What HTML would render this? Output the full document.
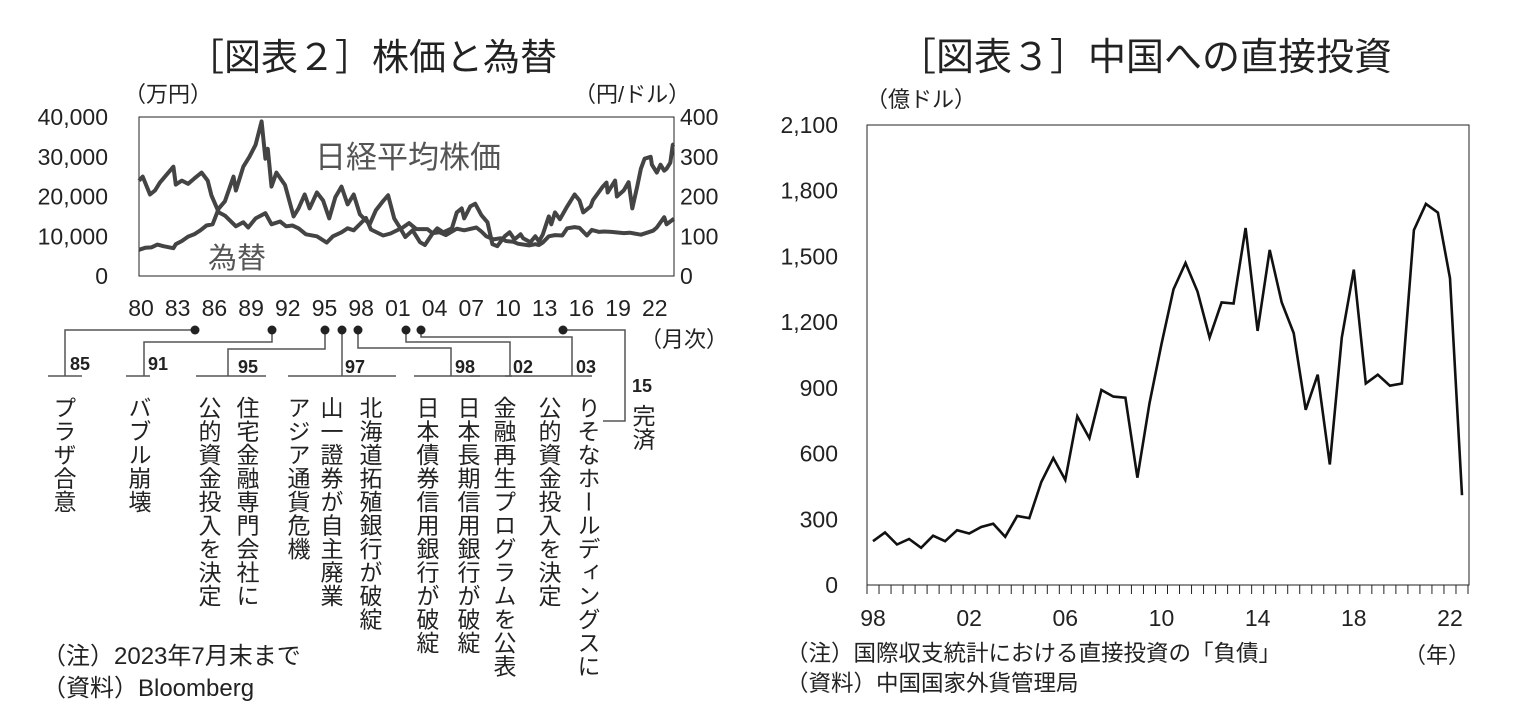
<!DOCTYPE html>
<html><head><meta charset="utf-8">
<style>
body{margin:0;background:#fff;}
#wrap{position:relative;width:1525px;height:727px;overflow:hidden;font-family:"Liberation Sans","Noto Sans CJK JP",sans-serif;color:#222;}
svg{position:absolute;left:0;top:0;}
svg text{font-family:"Liberation Sans","Noto Sans CJK JP",sans-serif;}
.v{position:absolute;writing-mode:vertical-rl;font-size:23px;line-height:26px;letter-spacing:0.5px;color:#222;white-space:nowrap;}
.n{position:absolute;font-size:22.5px;color:#222;white-space:nowrap;}
</style></head>
<body>
<div id="wrap">
<svg id="svg" width="1525" height="727">
 <text x="372" y="70" font-size="37" text-anchor="middle" fill="#222">［図表２］株価と為替</text>
 <text x="1145" y="70" font-size="38" text-anchor="middle" fill="#222">［図表３］中国への直接投資</text>
 <text x="124" y="102" font-size="22" fill="#222">（万円）</text>
 <text x="574" y="102" font-size="22" fill="#222">（円/ドル）</text>
 <rect x="139" y="117" width="535" height="159" fill="none" stroke="#222" stroke-width="1"/>
 <g id="leftAxes"></g>
 <g id="leftSeries"></g>
 <text x="315" y="168" font-size="31" fill="#555">日経平均株価</text>
 <text x="208" y="268" font-size="29" fill="#555">為替</text>
 <text x="640" y="347" font-size="22" fill="#222">（月次）</text>
 <g id="timeline" stroke="#555" stroke-width="1.5" fill="none"></g>
 <text x="866" y="107" font-size="22" fill="#222">（億ドル）</text>
 <rect x="867" y="125" width="602" height="460" fill="none" stroke="#222" stroke-width="1"/>
 <g id="rightAxes"></g>
 <g id="rightSeries"></g>
 <text x="1404" y="663" font-size="22" fill="#222">（年）</text>
</svg>

<div class="v" style="left:50px;top:396px">プラザ合意</div>
<div class="v" style="left:125px;top:396px">バブル崩壊</div>
<div class="v" style="left:195px;top:396px">公的資金投入を決定</div>
<div class="v" style="left:233px;top:396px">住宅金融専門会社に</div>
<div class="v" style="left:284px;top:396px">アジア通貨危機</div>
<div class="v" style="left:317px;top:396px">山一證券が自主廃業</div>
<div class="v" style="left:356px;top:396px">北海道拓殖銀行が破綻</div>
<div class="v" style="left:413px;top:396px">日本債券信用銀行が破綻</div>
<div class="v" style="left:454px;top:396px">日本長期信用銀行が破綻</div>
<div class="v" style="left:490px;top:396px">金融再生プログラムを公表</div>
<div class="v" style="left:535px;top:396px">公的資金投入を決定</div>
<div class="v" style="left:574px;top:396px">りそなホールディングスに</div>
<div class="v" style="left:629px;top:404px">完済</div>

<div class="n" style="left:42px;top:636px;font-size:24px">（注）2023年7月末まで</div>
<div class="n" style="left:42px;top:668px;font-size:24px">（資料）Bloomberg</div>
<div class="n" style="left:786px;top:636px">（注）国際収支統計における直接投資の「負債」</div>
<div class="n" style="left:786px;top:666px">（資料）中国国家外貨管理局</div>
</div>

<script>
// ---- Left chart data ----
const nikkeiT=[1980.0,1980.5,1981.0,1981.5,1982.0,1982.8,1983.0,1983.5,1984.0,1984.5,1985.0,1985.5,1986.0,1986.5,1987.0,1987.7,1987.9,1988.5,1989.0,1989.5,1989.99,1990.3,1990.5,1990.8,1991.2,1991.9,1992.6,1993.0,1993.5,1993.9,1994.5,1995.0,1995.5,1996.0,1996.5,1997.0,1997.5,1998.0,1998.8,1999.3,1999.9,2000.3,2000.8,2001.2,2001.7,2002.3,2002.9,2003.3,2003.9,2004.3,2004.8,2005.5,2005.9,2006.3,2006.5,2007.0,2007.4,2007.9,2008.4,2008.8,2009.2,2009.8,2010.2,2010.6,2011.1,2011.3,2011.9,2012.3,2012.6,2012.9,2013.4,2013.6,2013.9,2014.3,2014.9,2015.5,2015.9,2016.2,2016.8,2017.0,2017.8,2018.1,2018.2,2018.8,2018.95,2019.5,2019.9,2020.2,2020.6,2020.9,2021.2,2021.7,2021.8,2022.2,2022.5,2022.8,2023.0,2023.3,2023.5,2023.6];
const nikkeiV=[6600,7100,7200,7900,7500,7000,8000,8800,9900,10500,11500,12700,13000,17000,18800,25000,21500,27500,30000,33000,38900,29500,32000,22500,26000,22900,15000,17000,20500,17000,21000,19000,14500,19800,22500,18000,20500,15500,13000,16500,18900,20300,14500,12500,9800,11500,8500,7800,10600,12000,11000,12000,16000,17000,14500,17500,18200,15300,13500,8000,7500,10000,11000,9200,10500,9500,8500,10000,8700,10400,15000,13000,16000,14300,17500,20500,19000,16000,17500,19100,22500,23500,21000,24000,20000,21500,23600,17000,22500,27000,29500,30000,28000,26000,28000,26500,27000,28500,33000,33200];
const fxT=[1980.0,1980.3,1980.9,1981.3,1981.7,1982.8,1983.0,1983.5,1984.0,1984.5,1985.1,1985.6,1985.9,1986.5,1987.0,1987.9,1988.5,1988.9,1989.5,1990.3,1990.8,1991.5,1992.0,1992.5,1993.0,1993.6,1994.5,1995.3,1995.8,1996.5,1997.0,1997.5,1998.5,1998.9,1999.9,2000.5,2001.5,2002.0,2002.6,2003.5,2003.9,2004.5,2005.0,2005.9,2006.5,2007.5,2007.9,2008.3,2008.9,2009.5,2009.9,2010.5,2010.9,2011.8,2012.3,2012.6,2012.9,2013.4,2013.9,2014.5,2014.9,2015.5,2015.9,2016.5,2016.9,2017.5,2017.9,2018.5,2019.5,2020.0,2020.9,2021.5,2021.9,2022.2,2022.8,2023.0,2023.5,2023.6];
const fxV=[240,250,205,215,235,275,230,240,232,245,260,240,203,160,152,125,135,122,145,158,130,137,125,127,120,105,100,84,100,110,120,115,146,117,102,107,122,133,118,118,108,110,103,119,115,122,112,100,92,95,88,86,81,77,80,78,84,100,103,102,120,123,121,102,116,111,112,111,108,109,104,110,114,122,148,130,142,144];
const leftTicks=[0,10000,20000,30000,40000];
const leftTickLabels=["0","10,000","20,000","30,000","40,000"];
const rightTicks=[0,100,200,300,400];
const rightTickLabels=["0","100","200","300","400"];
const yearLabels=["80","83","86","89","92","95","98","01","04","07","10","13","16","19","22"];

// ---- Right chart data (semiannual, 1998H1..2022H2) ----
const fdiValues=[200,240,185,210,170,225,200,250,235,265,280,220,315,305,470,580,480,770,670,890,860,855,490,830,1100,1350,1470,1340,1130,1290,1285,1630,1160,1530,1290,1150,800,960,550,1130,1440,920,960,910,920,1620,1740,1700,1400,410];
const fdiTicks=[0,300,600,900,1200,1500,1800,2100];
const fdiTickLabels=["0","300","600","900","1,200","1,500","1,800","2,100"];
const fdiYearLabels=["98","02","06","10","14","18","22"];

const NS="http://www.w3.org/2000/svg";
function mk(tag,attrs,parent,txt){const e=document.createElementNS(NS,tag);for(const k in attrs)e.setAttribute(k,attrs[k]);if(txt!==undefined)e.textContent=txt;parent.appendChild(e);return e;}

const lx=t=>139+(t-1980)*(535/43.6);
const lyL=v=>276-v/40000*159;
const lyR=v=>276-v/400*159;
const la=document.getElementById('leftAxes');
leftTicks.forEach((v,i)=>{
  const t=mk('text',{x:108,y:lyL(v)+8,'font-size':23,'text-anchor':'end',fill:'#222'},la,leftTickLabels[i]);
  
  
});
rightTicks.forEach((v,i)=>{
  const t=mk('text',{x:680,y:lyR(v)+8,'font-size':23,fill:'#222'},la,rightTickLabels[i]);
  
  
});
yearLabels.forEach((s,i)=>{
  const t=mk('text',{x:141+i*36.7,y:316,'font-size':23,'text-anchor':'middle',fill:'#222'},la,s);
  
  
});
const ls=document.getElementById('leftSeries');
function line(T,V,fy,name){
  const d=T.map((t,i)=>(i?'L':'M')+lx(t).toFixed(1)+' '+fy(V[i]).toFixed(1)).join(' ');
  const p=mk('path',{d:d,fill:'none',stroke:'#444','stroke-width':4,'stroke-linejoin':'round'},ls);
  
  
}
line(nikkeiT,nikkeiV,lyL,'nikkei-line');
line(fxT,fxV,lyR,'fx-line');

const tl=document.getElementById('timeline');
const conns=[
 {dot:[195,330],path:'M195 330 H65 V376',ul:[48,82],lab:'85',lx:70,ly:370},
 {dot:[272,330],path:'M272 330 V342 H144 V376',ul:[126,150],lab:'91',lx:148,ly:370},
 {dot:[325,330],path:'M325 330 V349 H228 V376',ul:[196,266],lab:'95',lx:238,ly:373},
 {dot:[342,330],path:'M342 330 V376',ul:[288,396],lab:'97',lx:345,ly:373},
 {dot:[358,330],path:'M358 330 V348 H451 V376',ul:[414,480],lab:'98',lx:455,ly:373},
 {dot:[406,330],path:'M406 330 V342 H510 V376',ul:[470,512],lab:'02',lx:513,ly:373},
 {dot:[421,330],path:'M421 330 V337 H572 V376',ul:[505,592],lab:'03',lx:576,ly:373},
 {dot:[563,330],path:'M563 330 H625 V421 H603',ul:null,lab:'15',lx:632,ly:392}
];
conns.forEach(c=>{
  const p=mk('path',{d:c.path},tl);
  
  
  if(c.ul){const u=mk('line',{x1:c.ul[0],x2:c.ul[1],y1:376,y2:376},tl);
    
    }
  const d=mk('circle',{cx:c.dot[0],cy:c.dot[1],r:4.5,fill:'#222',stroke:'none'},tl);
  
  
  const t=mk('text',{x:c.lx,y:c.ly,'font-size':18,'font-weight':'bold',fill:'#222',stroke:'none'},tl,c.lab);
  
  
});

const rx=i=>873+i*12.02;
const ry=v=>585-v/2100*460;
const ra=document.getElementById('rightAxes');
fdiTicks.forEach((v,i)=>{
  const t=mk('text',{x:838,y:ry(v)+8,'font-size':23,'text-anchor':'end',fill:'#222'},ra,fdiTickLabels[i]);
  
  
});
for(let k=0;k<=fdiValues.length;k++){
  const x=rx(k)-6;
  const t=mk('line',{x1:x,x2:x,y1:585,y2:594,stroke:'#222','stroke-width':1},ra);
  
  
}
fdiYearLabels.forEach((s,i)=>{
  const t=mk('text',{x:rx(i*8),y:626,'font-size':23,'text-anchor':'middle',fill:'#222'},ra,s);
  
  
});
const rs=document.getElementById('rightSeries');
const fd=fdiValues.map((v,i)=>(i?'L':'M')+rx(i).toFixed(1)+' '+ry(v).toFixed(1)).join(' ');
const fp=mk('path',{d:fd,fill:'none',stroke:'#111','stroke-width':2.6,'stroke-linejoin':'miter'},rs);


</script>
</body></html>
